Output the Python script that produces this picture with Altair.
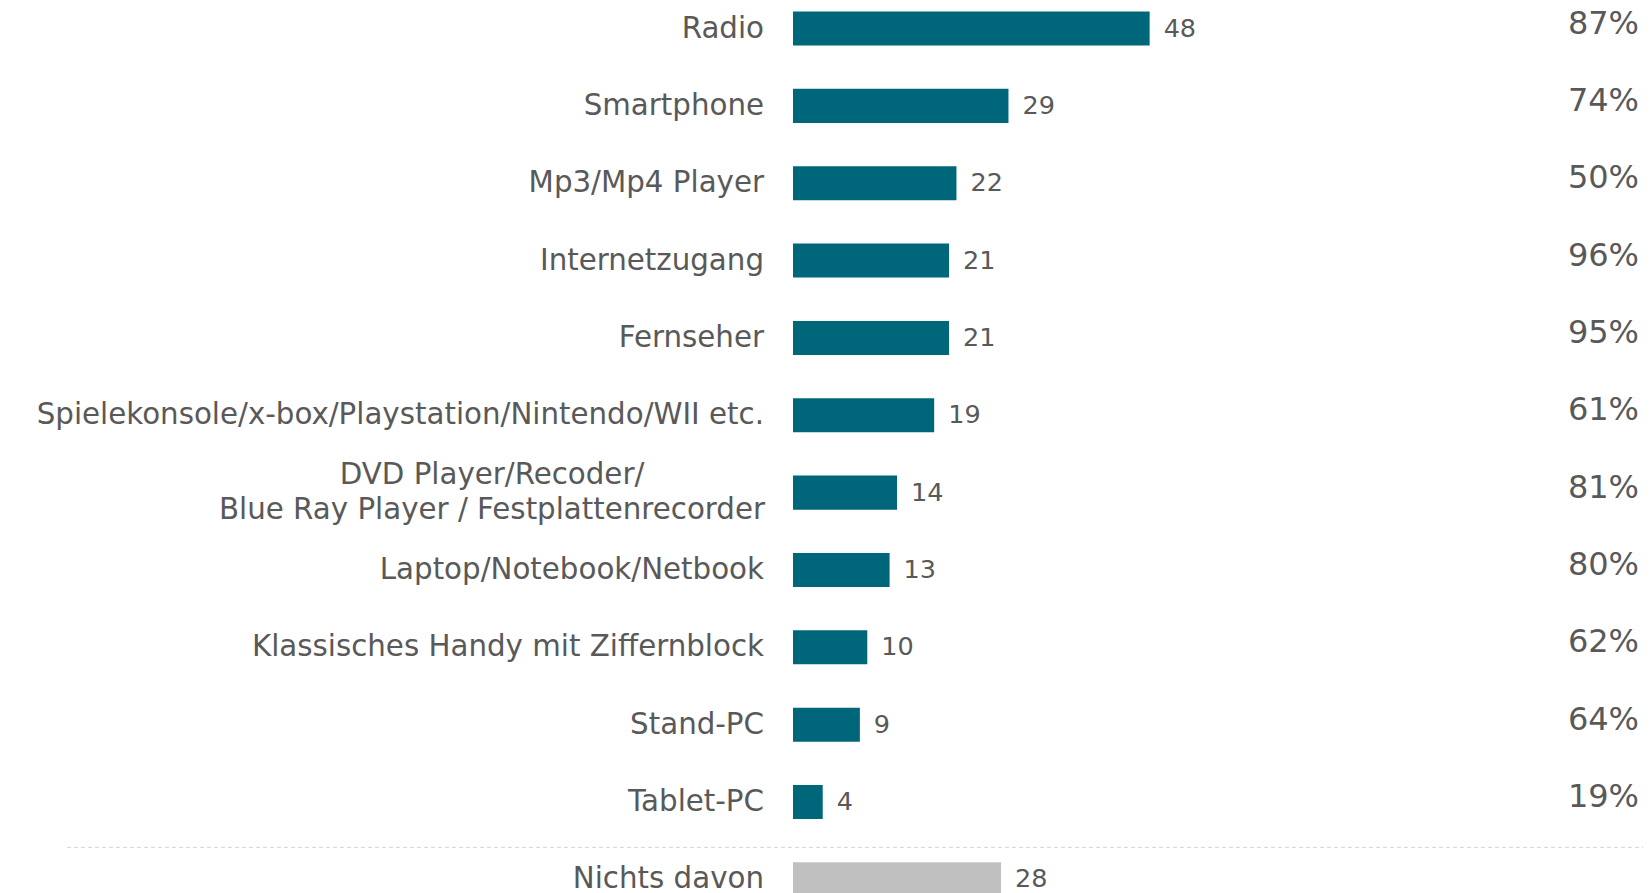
import altair as alt
import pandas as pd

labels = [
    "Radio",
    "Smartphone",
    "Mp3/Mp4 Player",
    "Internetzugang",
    "Fernseher",
    "Spielekonsole/x-box/Playstation/Nintendo/WII etc.",
    "DVD Player/Recoder/\nBlue Ray Player / Festplattenrecorder",
    "Laptop/Notebook/Netbook",
    "Klassisches Handy mit Ziffernblock",
    "Stand-PC",
    "Tablet-PC",
    "Nichts davon",
]
values = [48, 29, 22, 21, 21, 19, 14, 13, 10, 9, 4, 28]
shares = ["87%", "74%", "50%", "96%", "95%", "61%", "81%", "80%", "62%", "64%", "19%", ""]
groups = ["device"] * 11 + ["none"]

df = pd.DataFrame({"label": labels, "value": values, "share": shares, "group": groups})
df["multiline"] = df["label"].str.contains("\n")

TEXT = "#595959"
FONT = "DejaVu Sans"

y_scale = alt.Scale(range=[3.5, 888.4], paddingInner=0.56, paddingOuter=0)
y_enc = alt.Y("label:N", sort=labels, scale=y_scale, axis=None)
x_scale = alt.Scale(domain=[0, 100], range=[785, 1528])

base = alt.Chart(df)

bars = base.mark_bar().encode(
    x=alt.X("value:Q", scale=x_scale, axis=None),
    x2=alt.datum(0),
    y=y_enc,
    color=alt.Color(
        "group:N",
        scale=alt.Scale(domain=["device", "none"], range=["#00677a", "#c0c0c0"]),
        legend=None,
    ),
)

value_text = base.mark_text(
    align="left", baseline="middle", dx=14, fontSize=25.5, font=FONT, color=TEXT
).encode(x=alt.X("value:Q", scale=x_scale), y=y_enc, text="value:Q")

label_single = base.transform_filter("!datum.multiline").mark_text(
    align="right", baseline="middle", dx=-29, fontSize=29.3, font=FONT, color=TEXT,
).encode(x=alt.datum(0, scale=x_scale), y=y_enc, text="label:N")

label_multi = base.transform_filter("datum.multiline").mark_text(
    align="center", baseline="middle", dx=-301, dy=-17.5, fontSize=29.3,
    font=FONT, color=TEXT, lineBreak="\n", lineHeight=35,
).encode(x=alt.datum(0, scale=x_scale), y=y_enc, text="label:N")

share_text = base.mark_text(
    align="right", baseline="middle", dy=-5, fontSize=32, font=FONT, color=TEXT,
).encode(x=alt.value(1631), y=y_enc, text="share:N")

sep = base.transform_filter("datum.group == 'none'").mark_rule(
    color="#d4d4d4", strokeDash=[4, 3], strokeWidth=1
).encode(
    y=alt.Y("label:N", sort=labels, scale=y_scale, axis=None, bandPosition=0),
    yOffset=alt.value(-15),
    x=alt.value(59),
    x2=alt.value(1635),
)

chart = alt.layer(sep, bars, value_text, label_single, label_multi, share_text).properties(
    width=1635, height=885, autosize=alt.AutoSizeParams(type="none"), padding=0
).configure_view(stroke=None)

chart.save("out.html", embed_options={"renderer": "svg", "actions": False})
